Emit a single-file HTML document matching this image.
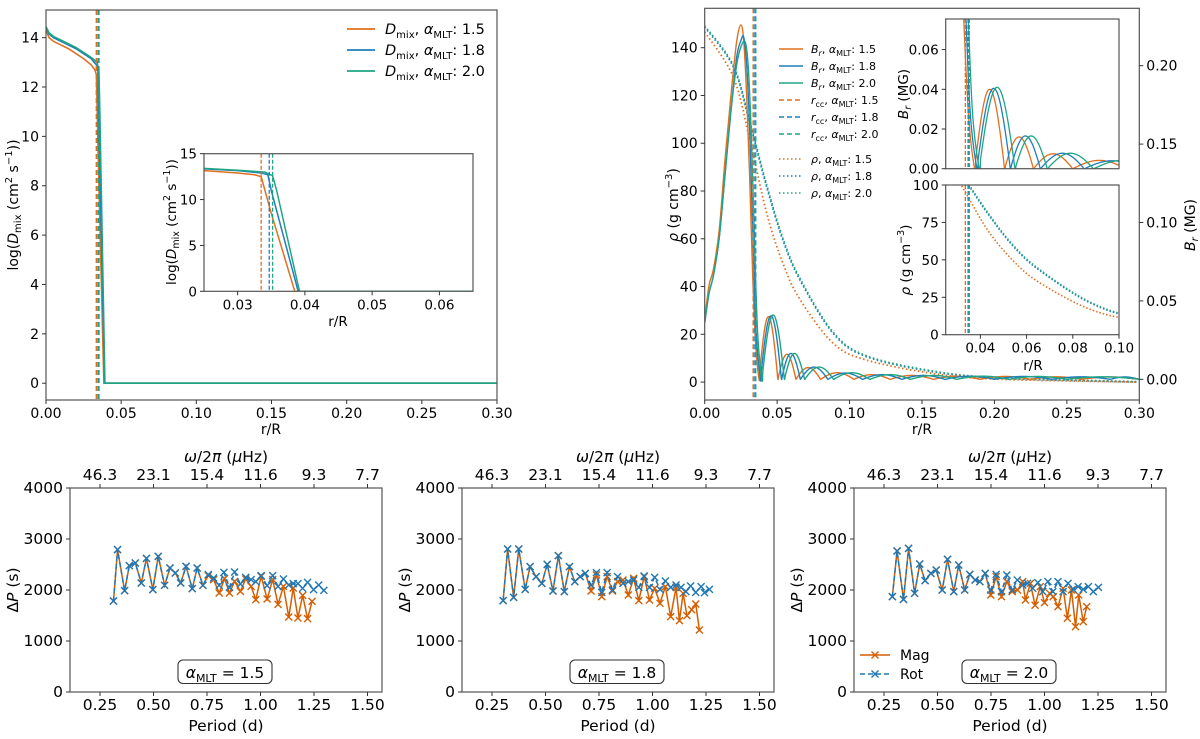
<!DOCTYPE html>
<html><head><meta charset="utf-8">
<style>
html,body{margin:0;padding:0;background:#fff;}
svg{display:block;font-family:"DejaVu Sans","Liberation Sans",sans-serif;}
</style></head>
<body>
<svg id="fig" width="1200" height="739" viewBox="0 0 1200 739" xmlns="http://www.w3.org/2000/svg"></svg>
<script>
// ===== DATA: top-left D_mix =====
const dmixR_15=[0,0.002,0.005,0.01,0.015,0.02,0.025,0.03,0.0325,0.0335,0.035,0.0385,0.3];
const dmixV_15=[14.3,14.0,13.85,13.7,13.55,13.35,13.15,12.9,12.7,12.5,8.5,0,0];
const dmixR_18=[0,0.002,0.005,0.01,0.015,0.02,0.025,0.03,0.0335,0.0345,0.035,0.039,0.3];
const dmixV_18=[14.4,14.15,14.0,13.85,13.7,13.55,13.35,13.15,12.9,12.7,11,0,0];
const dmixR_20=[0,0.002,0.005,0.01,0.015,0.02,0.025,0.03,0.034,0.0352,0.0358,0.0392,0.3];
const dmixV_20=[14.45,14.2,14.05,13.9,13.75,13.6,13.4,13.2,13.0,12.6,11,0,0];
const rcc=[0.0335,0.0347,0.0352];
const alphaLabels=["1.5","1.8","2.0"];
// ===== DATA: top-right B_r and rho =====
const humpR_15=[0,0.003,0.006,0.01,0.014,0.018,0.022,0.025,0.027,0.029,0.031,0.033,0.035,0.0375];
const humpB_15=[0.038,0.06,0.07,0.095,0.14,0.18,0.215,0.226,0.215,0.18,0.13,0.07,0.025,0];
const humpR_18=[0,0.003,0.006,0.01,0.014,0.018,0.022,0.025,0.027,0.029,0.031,0.033,0.0355,0.0385];
const humpB_18=[0.036,0.055,0.066,0.09,0.13,0.17,0.205,0.216,0.218,0.2,0.16,0.1,0.03,0];
const humpR_20=[0,0.003,0.006,0.01,0.014,0.018,0.022,0.025,0.028,0.030,0.032,0.034,0.0365,0.0395];
const humpB_20=[0.036,0.055,0.066,0.09,0.13,0.17,0.2,0.212,0.215,0.2,0.16,0.1,0.03,0];
const zeros_15=[0.0375,0.0505,0.063,0.080,0.103,0.128,0.158,0.19,0.225,0.26,0.30];
const amps_15=[0.040,0.016,0.0075,0.0042,0.003,0.0025,0.002,0.0018,0.0016,0.0015];
const zeros_18=[0.0385,0.053,0.066,0.085,0.109,0.136,0.166,0.20,0.24,0.28,0.30];
const amps_18=[0.0405,0.0165,0.0078,0.004,0.003,0.0025,0.002,0.0018,0.0016,0.0015];
const zeros_20=[0.0395,0.055,0.069,0.089,0.114,0.142,0.174,0.21,0.25,0.30];
const amps_20=[0.041,0.0165,0.0078,0.0042,0.003,0.0025,0.002,0.0018,0.0016];
const rhoR=[0,0.0198,0.0313,0.0428,0.054,0.0658,0.0888,0.1118,0.158,0.204,0.298];
const rho_15=[146.6,127.7,101,70.7,49.7,34.6,16.2,9.2,3.6,1.2,0];
const rho_18=[148.6,131.9,108,81.7,59.4,42.7,20.3,10.6,4.3,1.6,0];
const rho_20=[149.2,132.5,108.8,82.5,60.2,43.4,20.8,11.0,4.6,1.8,0.2];
// ===== DATA: bottom period spacings =====
const p1Rot=[0.313,0.332,0.365,0.387,0.415,0.443,0.467,0.497,0.522,0.552,0.577,0.602,0.627,0.652,0.681,0.704,0.731,0.756,0.781,0.807,0.829,0.855,0.879,0.906,0.931,0.956,0.978,1.003,1.031,1.057,1.082,1.107,1.132,1.153,1.175,1.197,1.220,1.248,1.272,1.296];
const dp1Rot=[1784,2791,1987,2477,2529,2137,2621,2007,2660,2092,2431,2333,2137,2464,2026,2431,2092,2301,2235,2092,2346,2052,2353,2118,2248,2203,2163,2281,2085,2281,2072,2216,2098,2124,2124,2033,2150,2007,2098,1993];
const p1MagTail=[0.756,0.781,0.807,0.832,0.855,0.879,0.906,0.931,0.956,0.978,1.003,1.031,1.057,1.082,1.107,1.132,1.153,1.175,1.197,1.220,1.241];
const dp1MagTail=[2281,2203,1941,2222,1941,2170,1974,2216,2072,1810,2268,1824,2203,1719,2072,1471,2039,1451,1895,1438,1778];
const p2Rot=[0.302,0.323,0.351,0.375,0.405,0.428,0.456,0.483,0.508,0.535,0.560,0.588,0.612,0.637,0.662,0.686,0.713,0.738,0.763,0.788,0.813,0.837,0.862,0.887,0.912,0.936,0.961,0.986,1.010,1.035,1.060,1.085,1.110,1.133,1.156,1.178,1.202,1.227,1.243,1.266];
const dp2Rot=[1791,2804,1856,2804,2013,2458,2262,2131,2503,1981,2674,1968,2458,2164,2262,2327,2098,2340,1954,2340,2000,2262,2131,2164,2196,2052,2275,2052,2248,2013,2177,2052,2098,2052,1968,2078,1954,2066,1948,2013];
const p2MagTail=[0.686,0.713,0.738,0.763,0.788,0.813,0.837,0.862,0.887,0.912,0.936,0.961,0.986,1.010,1.035,1.060,1.085,1.110,1.126,1.143,1.161,1.183,1.202,1.219];
const dp2MagTail=[2327,1981,2294,1870,2262,1981,2164,2196,1903,2229,1791,2262,1804,2033,1739,2066,1477,2052,1399,1935,1497,1615,1726,1216];
const p3Rot=[0.289,0.311,0.341,0.365,0.393,0.417,0.442,0.469,0.494,0.522,0.547,0.576,0.599,0.627,0.651,0.676,0.698,0.723,0.749,0.774,0.799,0.824,0.849,0.873,0.898,0.921,0.945,0.969,0.992,1.016,1.039,1.063,1.087,1.110,1.134,1.157,1.181,1.205,1.228,1.252];
const dp3Rot=[1869,2765,1817,2817,1935,2510,2183,2327,2392,2000,2601,1968,2490,2000,2307,2196,2164,2327,2000,2307,1968,2294,2000,2196,2098,2131,2033,2144,1968,2164,1968,2164,1968,2131,2013,2066,2013,2066,1968,2052];
const p3MagTail=[0.749,0.774,0.799,0.824,0.849,0.874,0.898,0.911,0.934,0.956,0.980,1.000,1.024,1.041,1.063,1.087,1.107,1.126,1.145,1.160,1.181,1.197];
const dp3MagTail=[1902,2262,1869,2164,1968,2000,2164,1804,2131,1700,2066,1752,1935,1869,1673,2033,1445,2000,1281,1902,1379,1673];
const periodTicks=[0.25,0.5,0.75,1.0,1.25,1.5];
const freqTickLabels=["46.3","23.1","15.4","11.6","9.3","7.7"];
const dpTicks=[0,1000,2000,3000,4000];

// ===== helpers =====
const NS="http://www.w3.org/2000/svg";
const svg=document.getElementById('fig');
const C15="#e07020",C18="#1f7fba",C20="#1fa583",CMAG="#d55e00",CROT="#1f77b4";
function lin(d0,d1,p0,p1){return v=>p0+(v-d0)*(p1-p0)/(d1-d0);}
function mk(tag,attrs,parent){const e=document.createElementNS(NS,tag);for(const k in attrs)e.setAttribute(k,attrs[k]);(parent||svg).appendChild(e);return e;}
function txt(x,y,s,size,anchor,parent,rot){const t=mk('text',{x:x,y:y,'font-size':size,'text-anchor':anchor||'middle',fill:'#000'},parent);if(rot)t.setAttribute('transform','rotate(-90 '+x+' '+y+')');t.innerHTML=s;return t;}
function pathD(pts){return pts.map((p,i)=>(i?'L':'M')+p[0].toFixed(2)+' '+p[1].toFixed(2)).join(' ');}
function smoothD(pts){
  let d='M'+pts[0][0].toFixed(2)+' '+pts[0][1].toFixed(2);
  for(let i=0;i<pts.length-1;i++){
    const p0=pts[Math.max(0,i-1)],p1=pts[i],p2=pts[i+1],p3=pts[Math.min(pts.length-1,i+2)];
    const c1=[p1[0]+(p2[0]-p0[0])/6,p1[1]+(p2[1]-p0[1])/6],c2=[p2[0]-(p3[0]-p1[0])/6,p2[1]-(p3[1]-p1[1])/6];
    d+=`C${c1[0].toFixed(2)} ${c1[1].toFixed(2)} ${c2[0].toFixed(2)} ${c2[1].toFixed(2)} ${p2[0].toFixed(2)} ${p2[1].toFixed(2)}`;
  }
  return d;
}
let clipId=0;
function clip(x0,y0,x1,y1){const id='c'+(clipId++);const cp=mk('clipPath',{id:id});mk('rect',{x:x0,y:y0,width:x1-x0,height:y1-y0},cp);return 'url(#'+id+')';}
function frame(x0,y0,x1,y1,name){const r=mk('rect',{x:x0,y:y0,width:x1-x0,height:y1-y0,fill:'none',stroke:'#555','stroke-width':1.2});}
function xticks(vals,X,y,labels,size,up){vals.forEach((v,i)=>{const x=X(v);mk('line',{x1:x,x2:x,y1:y,y2:up?y-4:y+4,stroke:'#333'});const t=txt(x,up?y-8:y+18,labels[i],size);});}
function yticks(vals,Y,x,labels,size,right){vals.forEach((v,i)=>{const y=Y(v);mk('line',{x1:x,x2:right?x+4:x-4,y1:y,y2:y,stroke:'#333'});const t=txt(right?x+7:x-7,y+5,labels[i],size,right?'start':'end');});}

// ===== Panel A: top-left =====
(function(){
  const X=lin(0,0.3,46,497),Y=lin(-0.68,15.12,400,10);
  const cl=clip(46,10,497,400);
  const g=mk('g',{'clip-path':cl});
  const cols=[C15,C18,C20];
  [[dmixR_15,dmixV_15],[dmixR_18,dmixV_18],[dmixR_20,dmixV_20]].forEach((s,k)=>{
    const p=mk('path',{d:pathD(s[0].map((r,i)=>[X(r),Y(s[1][i])])),fill:'none',stroke:cols[k],'stroke-width':1.6},g);
    
  });
  rcc.forEach((r,k)=>{const l=mk('line',{x1:X(r),x2:X(r),y1:10,y2:400,stroke:cols[k],'stroke-width':1.5,'stroke-dasharray':'5 3'},g);});
  frame(46,10,497,400,'dmix-axes');
  xticks([0,0.05,0.1,0.15,0.2,0.25,0.3],X,400,["0.00","0.05","0.10","0.15","0.20","0.25","0.30"],14);
  yticks([0,2,4,6,8,10,12,14],Y,46,["0","2","4","6","8","10","12","14"],14);
  let t=txt(271,434,'r/R',14);
  t=txt(18,205,'log(<tspan font-style="italic">D</tspan><tspan font-size="10" dy="3">mix</tspan><tspan dy="-3"> (cm</tspan><tspan font-size="10" dy="-6">2</tspan><tspan dy="6"> s</tspan><tspan font-size="10" dy="-6">−1</tspan><tspan dy="6">))</tspan>',14,'middle',null,true);
  [0,1,2].forEach(k=>{const y=29+k*21;const l=mk('line',{x1:347,x2:375,y1:y,y2:y,stroke:cols[k],'stroke-width':1.8});
    const tt=txt(385,y+5,'<tspan font-style="italic">D</tspan><tspan font-size="10" dy="4">mix</tspan><tspan dy="-4">, </tspan><tspan font-style="italic">α</tspan><tspan font-size="10" dy="4">MLT</tspan><tspan dy="-4">: '+alphaLabels[k]+'</tspan>',14.5,'start');});
  const IX=lin(0.025,0.065,204,473),IY=lin(0,15,291.3,153.7);
  mk('rect',{x:204,y:153.7,width:269,height:137.6,fill:'#fff'});
  const cl2=clip(204,153.7,473,291.3);
  const g2=mk('g',{'clip-path':cl2});
  [[dmixR_15,dmixV_15],[dmixR_18,dmixV_18],[dmixR_20,dmixV_20]].forEach((s,k)=>{
    const p=mk('path',{d:pathD(s[0].map((r,i)=>[IX(r),IY(s[1][i])])),fill:'none',stroke:cols[k],'stroke-width':1.5},g2);
    });
  rcc.forEach((r,k)=>{const l=mk('line',{x1:IX(r),x2:IX(r),y1:153.7,y2:291.3,stroke:cols[k],'stroke-width':1.3,'stroke-dasharray':'4 2'},g2);});
  frame(204,153.7,473,291.3,'dmix-inset-axes');
  xticks([0.03,0.04,0.05,0.06],IX,291.3,["0.03","0.04","0.05","0.06"],13.5);
  yticks([0,5,10,15],IY,204,["0","5","10","15"],13.5);
  t=txt(338,326,'r/R',13.5);
  t=txt(176,222,'log(<tspan font-style="italic">D</tspan><tspan font-size="9.5" dy="3">mix</tspan><tspan dy="-3"> (cm</tspan><tspan font-size="9.5" dy="-6">2</tspan><tspan dy="6"> s</tspan><tspan font-size="9.5" dy="-6">−1</tspan><tspan dy="6">))</tspan>',13.5,'middle',null,true);
})();

// ===== Panel B: top-right =====
function brCurve(hr,hb,zs,as,X,Y){
  const pts=hr.map((r,i)=>[X(r),Y(hb[i])]);
  for(let i=0;i<as.length;i++){const a=zs[i],b=zs[i+1];for(let j=1;j<=24;j++){const t=j/24;pts.push([X(a+(b-a)*t),Y(as[i]*Math.sin(Math.PI*t))]);}}
  return pts;
}
(function(){
  const L=704.7,R=1139.3,T=8.3,B=400;
  const X=lin(0,0.3,L,R),YL=lin(-7.5,156.5,B,T),YR=lin(-0.0132,0.2366,B,T);
  const cols=[C15,C18,C20];
  const cl=clip(L,T,R,B);
  const g=mk('g',{'clip-path':cl});
  const br=[[humpR_15,humpB_15,zeros_15,amps_15],[humpR_18,humpB_18,zeros_18,amps_18],[humpR_20,humpB_20,zeros_20,amps_20]];
  const rhos=[rho_15,rho_18,rho_20];
  rhos.forEach((s,k)=>{const p=mk('path',{d:smoothD(rhoR.map((r,i)=>[X(r),YL(s[i])])),fill:'none',stroke:cols[k],'stroke-width':1.8,'stroke-dasharray':'1.5 2.5'},g);});
  br.forEach((s,k)=>{const p=mk('path',{d:smoothD(brCurve(s[0],s[1],s[2],s[3],X,YR)),fill:'none',stroke:cols[k],'stroke-width':1.4},g);});
  rcc.forEach((r,k)=>{const l=mk('line',{x1:X(r),x2:X(r),y1:T,y2:B,stroke:cols[k],'stroke-width':1.5,'stroke-dasharray':'5 3'},g);});
  frame(L,T,R,B,'br-rho-axes');
  xticks([0,0.05,0.1,0.15,0.2,0.25,0.3],X,B,["0.00","0.05","0.10","0.15","0.20","0.25","0.30"],14);
  yticks([0,20,40,60,80,100,120,140],YL,L,["0","20","40","60","80","100","120","140"],14);
  yticks([0,0.05,0.1,0.15,0.2],YR,R,["0.00","0.05","0.10","0.15","0.20"],14,true);
  let t=txt(922,434,'r/R',14);
  t=txt(678,205,'<tspan font-style="italic">ρ</tspan> (g cm<tspan font-size="10" dy="-6">−3</tspan><tspan dy="6">)</tspan>',14,'middle',null,true);
  t=txt(1195,225,'<tspan font-style="italic">B</tspan><tspan font-size="10" dy="3" font-style="italic">r</tspan><tspan dy="-3"> (MG)</tspan>',14,'middle',null,true);
  const ly=[49,66,83,100,117,134,159,176,193];
  const lbl=['<tspan font-style="italic">B</tspan><tspan font-size="8" dy="3" font-style="italic">r</tspan><tspan dy="-3">, </tspan>','<tspan font-style="italic">r</tspan><tspan font-size="8" dy="3">cc</tspan><tspan dy="-3">, </tspan>','<tspan font-style="italic">ρ</tspan>, '];
  const dashes=[null,'5 3','1.5 2.5'];
  for(let i=0;i<9;i++){const grp=Math.floor(i/3),k=i%3,y=ly[i];
    const l=mk('line',{x1:779,x2:803,y1:y,y2:y,stroke:cols[k],'stroke-width':1.6});if(dashes[grp])l.setAttribute('stroke-dasharray',dashes[grp]);
    
    const tt=txt(811,y+4,lbl[grp]+'<tspan font-style="italic">α</tspan><tspan font-size="8" dy="3">MLT</tspan><tspan dy="-3">: '+alphaLabels[k]+'</tspan>',11,'start');
    }
  const IX=lin(0.025,0.10,945.7,1119);
  const IY1=lin(0,0.0754,168.7,19);
  mk('rect',{x:945.7,y:19,width:173.3,height:149.7,fill:'#fff'});
  const c1=clip(945.7,19,1119,168.7);
  const g1=mk('g',{'clip-path':c1});
  br.forEach((s,k)=>{const p=mk('path',{d:smoothD(brCurve(s[0],s[1],s[2],s[3],IX,IY1)),fill:'none',stroke:cols[k],'stroke-width':1.3},g1);});
  rcc.forEach((r,k)=>{const l=mk('line',{x1:IX(r),x2:IX(r),y1:19,y2:168.7,stroke:cols[k],'stroke-width':1.3,'stroke-dasharray':'4 2'},g1);});
  frame(945.7,19,1119,168.7,'br-inset-axes');
  yticks([0,0.02,0.04,0.06],IY1,945.7,["0.00","0.02","0.04","0.06"],13.5);
  t=txt(908,94,'<tspan font-style="italic">B</tspan><tspan font-size="9.5" dy="3" font-style="italic">r</tspan><tspan dy="-3"> (MG)</tspan>',13.5,'middle',null,true);
  const IY2=lin(0,100,334.7,185);
  mk('rect',{x:945.7,y:185,width:173.3,height:149.7,fill:'#fff'});
  const c2=clip(945.7,185,1119,334.7);
  const g2=mk('g',{'clip-path':c2});
  rhos.forEach((s,k)=>{const p=mk('path',{d:smoothD(rhoR.map((r,i)=>[IX(r),IY2(s[i])])),fill:'none',stroke:cols[k],'stroke-width':1.6,'stroke-dasharray':'1.5 2'},g2);});
  rcc.forEach((r,k)=>{const l=mk('line',{x1:IX(r),x2:IX(r),y1:185,y2:334.7,stroke:cols[k],'stroke-width':1.3,'stroke-dasharray':'4 2'},g2);});
  frame(945.7,185,1119,334.7,'rho-inset-axes');
  yticks([0,25,50,75,100],IY2,945.7,["0","25","50","75","100"],13.5);
  xticks([0.04,0.06,0.08,0.10],IX,334.7,["0.04","0.06","0.08","0.10"],13.5);
  t=txt(1033,370,'r/R',13.5);
  t=txt(910,260,'<tspan font-style="italic">ρ</tspan> (g cm<tspan font-size="9.5" dy="-6">−3</tspan><tspan dy="6">)</tspan>',13.5,'middle',null,true);
})();

// ===== Bottom panels =====
function xMark(x,y,c,parent){const s=3.5;const p=mk('path',{d:`M${x-s} ${y-s}L${x+s} ${y+s}M${x-s} ${y+s}L${x+s} ${y-s}`,stroke:c,'stroke-width':1.4,fill:'none'},parent);}
function bottomPanel(L,pRot,dRot,pMag,dMag,alpha,idx,legend){
  const W=312,T=488,B=692,R=L+W;
  const X=lin(0.25,1.5,L+30,L+30+1.25*214),Y=lin(0,4000,B,T);
  const g=mk('g',{});
  const mag=mk('path',{d:pathD(pMag.map((p,i)=>[X(p),Y(dMag[i])])),stroke:CMAG,'stroke-width':1.5,fill:'none'},g);
  
  pMag.forEach((p,i)=>xMark(X(p),Y(dMag[i]),CMAG,g));
  const rot=mk('path',{d:pathD(pRot.map((p,i)=>[X(p),Y(dRot[i])])),stroke:CROT,'stroke-width':1.5,fill:'none','stroke-dasharray':'5 3'},g);
  
  pRot.forEach((p,i)=>xMark(X(p),Y(dRot[i]),CROT,g));
  frame(L,T,R,B,'period-axes-'+idx);
  xticks(periodTicks,X,B,periodTicks.map(v=>v.toFixed(2)),15.5);
  xticks(periodTicks,X,T,freqTickLabels,15.5,true);
  yticks(dpTicks,Y,L,dpTicks.map(String),15.5);
  let t=txt(L+W/2,731,'Period (d)',15.5);
  t=txt(L+W/2,462,'<tspan font-style="italic">ω</tspan>/2<tspan font-style="italic">π</tspan> (<tspan font-style="italic">μ</tspan>Hz)',15.5);
  t=txt(L-52,590,'Δ<tspan font-style="italic">P</tspan> (s)',15.5,'middle',null,true);
  const bx=L+108;
  const box=mk('rect',{x:bx,y:660,width:94,height:23.5,rx:5,fill:'#fff',stroke:'#333','stroke-width':1.1});
  t=txt(bx+47,678,'<tspan font-style="italic">α</tspan><tspan font-size="11" dy="4">MLT</tspan><tspan dy="-4"> = '+alpha+'</tspan>',15.5);
  if(legend){
    [[CMAG,null,'Mag',655],[CROT,'5 3','Rot',674]].forEach(e=>{
      const l=mk('line',{x1:L+6,x2:L+36,y1:e[3],y2:e[3],stroke:e[0],'stroke-width':1.5});if(e[1])l.setAttribute('stroke-dasharray',e[1]);
      
      xMark(L+21,e[3],e[0]);
      const tt=txt(L+46,e[3]+5,e[2],14,'start');});
  }
}
bottomPanel(70,p1Rot,dp1Rot,p1Rot.slice(0,17).concat(p1MagTail),dp1Rot.slice(0,17).concat(dp1MagTail),"1.5",1,false);
bottomPanel(462,p2Rot,dp2Rot,p2Rot.slice(0,15).concat(p2MagTail),dp2Rot.slice(0,15).concat(dp2MagTail),"1.8",2,false);
bottomPanel(854,p3Rot,dp3Rot,p3Rot.slice(0,18).concat(p3MagTail),dp3Rot.slice(0,18).concat(dp3MagTail),"2.0",3,true);
</script>
</body></html>
